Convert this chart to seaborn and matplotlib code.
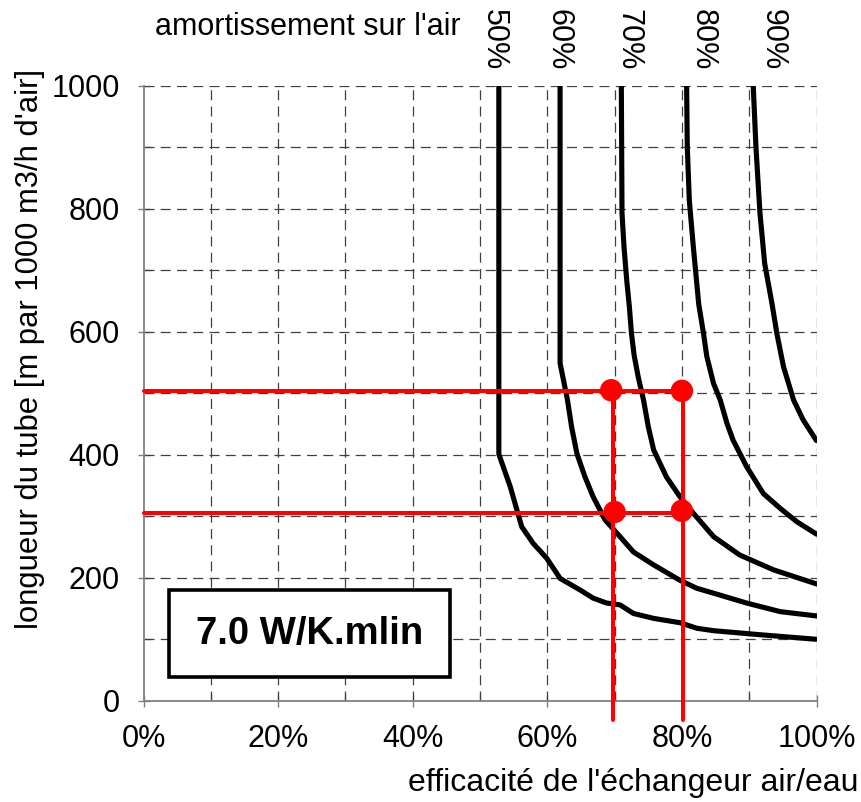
import numpy as np
import pandas as pd
import seaborn as sns
import matplotlib.pyplot as plt
from matplotlib.patches import Rectangle
from matplotlib.ticker import MultipleLocator, FuncFormatter

# courbes d'amortissement (efficacite en %, longueur en m / 1000 m3/h)
amort_labels = ["50%", "60%", "70%", "80%", "90%"]
label_x = [52.1, 61.7, 72.1, 83.1, 93.5]

eff_50 = [52.8, 52.8, 54.5, 56.2, 57.9, 59.9, 61.9, 64.9, 66.8, 68.8, 70.8, 72.8, 75.8, 79.7, 82.2, 84.7, 92.1, 100]
len_50 = [1000, 401, 348, 283, 256, 232, 199, 180, 167, 159, 156, 142, 134, 127, 118, 114, 107, 100]

eff_60 = [61.9, 61.9, 63.0, 63.6, 64.4, 65.6, 66.8, 68.6, 70.8, 72.8, 75.8, 79.7, 82.2, 84.7, 89.6, 94.6, 100]
len_60 = [1000, 549, 489, 446, 402, 364, 332, 294, 267, 242, 221, 196, 183, 175, 159, 145, 138]

eff_70 = [71.0, 71.1, 71.4, 71.8, 72.2, 72.5, 72.9, 73.5, 74.3, 75.0, 75.8, 77.7, 79.7, 81.7, 84.7, 88.6, 93.6, 100]
len_70 = [1000, 793, 738, 684, 640, 598, 562, 527, 489, 446, 408, 364, 332, 305, 267, 237, 213, 190]

eff_80 = [80.7, 80.8, 81.1, 81.7, 82.5, 83.2, 83.7, 84.7, 85.7, 86.7, 87.6, 89.6, 92.1, 94.6, 97.1, 100]
len_80 = [1000, 901, 814, 738, 645, 598, 560, 516, 489, 451, 424, 381, 337, 313, 291, 271]

eff_90 = [90.6, 91.0, 91.6, 92.3, 93.4, 94.1, 95.1, 96.6, 98.0, 100]
len_90 = [1000, 901, 793, 711, 645, 598, 543, 489, 457, 423]

# points de lecture (rouge)
pt_eff = [69.5, 80.0, 70.0, 80.0]
pt_len = [505, 504, 307, 309]
read_len = [504, 306]
read_eff = [69.8, 80.1]

frames = []
for lab, xs, ys in zip(amort_labels, [eff_50, eff_60, eff_70, eff_80, eff_90],
                       [len_50, len_60, len_70, len_80, len_90]):
    frames.append(pd.DataFrame({"eff": xs, "len": ys, "amort": lab}))
df = pd.concat(frames, ignore_index=True)

sns.set_theme(style="white")
plt.rcParams["font.family"] = ["Liberation Sans", "DejaVu Sans"]
plt.rcParams["text.color"] = "black"
plt.rcParams["xtick.labelcolor"] = "black"
plt.rcParams["ytick.labelcolor"] = "black"

fig = plt.figure(figsize=(8.61, 8.02), dpi=100)
ax = fig.add_axes([143.5 / 861, 1 - 700.8 / 802, 673 / 861, 615 / 802])

# grille pointillee
for v in np.arange(10, 101, 10):
    ax.axvline(v, color="#404040", lw=0.9, ls=(0, (8, 5)), zorder=1)
for v in np.arange(100, 1001, 100):
    ax.axhline(v, color="#404040", lw=0.9, ls=(0, (8, 5)), zorder=1)

sns.lineplot(data=df, x="eff", y="len", units="amort", estimator=None, sort=False,
             color="black", lw=3.7, ax=ax, zorder=3)

# lignes de lecture
for y in read_len:
    ax.plot([0, read_eff[1]], [y, y], color="#ff0000", lw=2.9, zorder=4, clip_on=False)
ax.plot([read_eff[0], read_eff[0]], [read_len[0], -32], color="#ff0000", lw=2.9, zorder=4, clip_on=False)
ax.plot([read_eff[1], read_eff[1]], [read_len[0], -32], color="#ff0000", lw=2.9, zorder=4, clip_on=False)
sns.scatterplot(x=pt_eff, y=pt_len, color="#ff0000", s=260, edgecolor="none", ax=ax, zorder=5)

ax.set_xlim(0, 100)
ax.set_ylim(0, 1000)
ax.set_xlabel("")
ax.set_ylabel("")

ax.xaxis.set_major_locator(MultipleLocator(20))
ax.xaxis.set_minor_locator(MultipleLocator(10))
ax.yaxis.set_major_locator(MultipleLocator(200))
ax.yaxis.set_minor_locator(MultipleLocator(100))
ax.xaxis.set_major_formatter(FuncFormatter(lambda v, p: f"{v:.0f}%"))
ax.tick_params(axis="both", which="major", direction="inout", length=8, width=1,
               color="#808080", labelsize=22, pad=13, labelcolor="black")
ax.tick_params(axis="both", which="minor", direction="in", length=5, width=1, color="#808080")
ax.tick_params(bottom=True, left=True, which="both")

for s in ["top", "right"]:
    ax.spines[s].set_visible(False)
for s in ["left", "bottom"]:
    ax.spines[s].set_color("#808080")
    ax.spines[s].set_linewidth(1.3)

# cadre de l'annotation
ax.add_patch(Rectangle((3.8, 38.7), 41.7, 141.3, facecolor="white", edgecolor="black", lw=2.6, zorder=6))
ax.text(24.65, 109, "7.0 W/K.mlin", fontsize=27.5, fontweight="bold", color="black",
        ha="center", va="center", zorder=7)

# etiquettes des courbes
for lab, xv in zip(amort_labels, label_x):
    ax.text(xv, 1.0745, lab, rotation=-90, fontsize=22, color="black", ha="center", va="center",
            transform=ax.get_xaxis_transform())

fig.text(155 / 861, 1 - 27 / 802, "amortissement sur l'air", fontsize=22, color="black",
         ha="left", va="center")
fig.text(858 / 861, 1 - 783 / 802, "efficacité de l'échangeur air/eau", fontsize=23, color="black",
         ha="right", va="center")
fig.text(30 / 861, 1 - 349 / 802, "longueur du tube [m par 1000 m3/h d'air]", fontsize=22.3,
         color="black", rotation=90, ha="center", va="center")

fig.savefig("out.png", dpi=100)
